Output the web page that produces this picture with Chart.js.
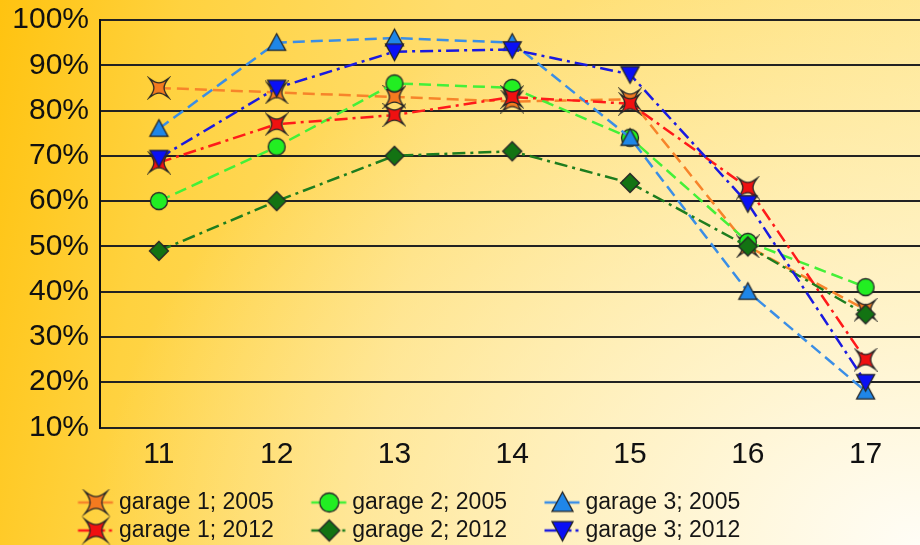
<!DOCTYPE html>
<html>
<head>
<meta charset="utf-8">
<script src="https://cdn.jsdelivr.net/npm/chart.js@4"></script>
<style>
html, body { margin: 0; padding: 0; width: 920px; height: 545px; overflow: hidden; }
body {
    background:
        radial-gradient(ellipse 90% 110% at 100% 100%, rgba(255,253,246,1) 0%, rgba(255,249,228,0.75) 35%, rgba(255,255,255,0) 100%),
        linear-gradient(100deg, #FFC310 0%, #FFD23F 18%, #FFDD6E 45%, #FFE791 100%);
}
#myChart { display: block; }
</style>
</head>
<body>
<canvas id="myChart" width="937" height="552"></canvas>
<script>
// categories (x) and values in %
var categories = ['11', '12', '13', '14', '15', '16', '17'];
var labels = ['garage 1; 2005', 'garage 2; 2005', 'garage 3; 2005', 'garage 1; 2012', 'garage 2; 2012', 'garage 3; 2012'];

var garage1_2005 = [85, 84, 83, 82, 82.5, 50, 36];
var garage2_2005 = [60, 72, 86, 85, 74, 51, 41];
var garage3_2005 = [76, 95, 96, 95, 74, 40, 18];
var garage1_2012 = [68.5, 77, 79, 83, 81.5, 63, 25];
var garage2_2012 = [49, 60, 70, 71, 64, 50, 35];
var garage3_2012 = [69.5, 85, 93, 93.5, 88, 59.5, 20];

var yMin = 10, yMax = 100, yStep = 10;

var FONT = "'Liberation Sans', Arial, sans-serif";

// marker drawing (4 point star, circle, triangles, diamond)
function drawShape(c, shape, x, y, s, fill) {
    c.beginPath();
    if (shape === 'star') {
        var a = 0.2 * s, b = 0.38 * s;
        c.moveTo(x - s, y - s);
        c.bezierCurveTo(x - a, y - b, x + a, y - b, x + s, y - s);
        c.bezierCurveTo(x + b, y - a, x + b, y + a, x + s, y + s);
        c.bezierCurveTo(x + a, y + b, x - a, y + b, x - s, y + s);
        c.bezierCurveTo(x - b, y + a, x - b, y - a, x - s, y - s);
    } else if (shape === 'circle') {
        c.arc(x, y, s, 0, Math.PI * 2);
    } else if (shape === 'tri') {
        c.moveTo(x, y - s);
        c.lineTo(x + s, y + s * 0.85);
        c.lineTo(x - s, y + s * 0.85);
    } else if (shape === 'invtri') {
        c.moveTo(x, y + s);
        c.lineTo(x + s, y - s * 0.85);
        c.lineTo(x - s, y - s * 0.85);
    } else if (shape === 'diamond') {
        c.moveTo(x, y - s);
        c.lineTo(x + s, y);
        c.lineTo(x, y + s);
        c.lineTo(x - s, y);
    }
    c.closePath();
    c.fillStyle = fill;
    c.fill();
    c.lineWidth = 1.3;
    c.strokeStyle = '#262626';
    c.stroke();
}

function marker(shape, fill, s) {
    var cv = document.createElement('canvas');
    var n = Math.ceil(2 * s + 5);
    cv.width = n;
    cv.height = n;
    drawShape(cv.getContext('2d'), shape, n / 2, n / 2, s, fill);
    return cv;
}

// legend icon: line + marker, marker sits in the right part of the box
function legendIcon(shape, fill, line, dotted, s) {
    var cv = document.createElement('canvas');
    cv.width = 80;
    cv.height = 28;
    var c = cv.getContext('2d');
    var mx = 59.5, my = 14;
    c.strokeStyle = line;
    c.lineWidth = 2.5;
    c.beginPath();
    if (!dotted) {
        c.moveTo(mx - 18, my); c.lineTo(mx + 17, my);
    } else {
        c.moveTo(mx - 18, my); c.lineTo(mx - 4, my);
        c.moveTo(mx + 4, my); c.lineTo(mx + 9, my);
        c.moveTo(mx + 13, my); c.lineTo(mx + 16, my);
    }
    c.stroke();
    drawShape(c, shape, mx, my, s, fill);
    return cv;
}

var styles = [
    {data: garage1_2005, line: '#F7842A', fill: '#F47A1F', shape: 'star', s: 9.5, ls: 11, dash: [12, 6]},
    {data: garage2_2005, line: '#44F038', fill: '#22EE22', shape: 'circle', s: 8.5, ls: 9.5, dash: [12, 6]},
    {data: garage3_2005, line: '#3A8EE6', fill: '#1F86E8', shape: 'tri', s: 9, ls: 10.5, dash: [12, 6]},
    {data: garage1_2012, line: '#FF1A1A', fill: '#F01010', shape: 'star', s: 9.5, ls: 11, dash: [13, 5, 3, 5]},
    {data: garage2_2012, line: '#1E7D1E', fill: '#137313', shape: 'diamond', s: 9.5, ls: 10.5, dash: [13, 5, 3, 5]},
    {data: garage3_2012, line: '#1A1AE0', fill: '#0A10F5', shape: 'invtri', s: 9, ls: 10.5, dash: [13, 5, 3, 5]}
];

var legendIcons = [];
var datasets = [];
for (let i = 0; i < styles.length; i++) {
    var st = styles[i];
    legendIcons.push(legendIcon(st.shape, st.fill, st.line, i >= 3, st.ls));
    datasets.push({
        label: labels[i],
        data: st.data,
        borderColor: st.line,
        backgroundColor: st.fill,
        borderWidth: 2.5,
        borderDash: st.dash,
        tension: 0,
        fill: false,
        pointStyle: marker(st.shape, st.fill, st.s),
        pointRadius: 10,
        order: styles.length - i
    });
}

// move the legend to the right, the y axis keeps its own width
const legendShift = {
    id: 'legendShift',
    afterLayout: function (chart) {
        chart.legend.left += 40.5;
        chart.legend.right += 40.5;
    }
};

const ctx = document.getElementById('myChart').getContext('2d');

const myChart = new Chart(ctx, {
    type: 'line',
    data: {
        labels: categories,
        datasets: datasets
    },
    options: {
        responsive: false,
        animation: false,
        layout: {
            padding: {left: 0, top: 0, right: 0, bottom: 0}
        },
        plugins: {
            tooltip: {enabled: false},
            legend: {
                position: 'bottom',
                align: 'start',
                labels: {
                    usePointStyle: true,
                    pointStyleWidth: 62,
                    padding: 5,
                    color: '#151515',
                    font: {family: FONT, size: 23},
                    sort: function (a, b) { return a.datasetIndex - b.datasetIndex; },
                    generateLabels: function (chart) {
                        var items = Chart.defaults.plugins.legend.labels.generateLabels(chart);
                        items.forEach(function (it) { it.pointStyle = legendIcons[it.datasetIndex]; });
                        return items;
                    }
                }
            }
        },
        scales: {
            x: {
                offset: true,
                grid: {display: false, drawTicks: false},
                border: {display: true, color: '#222', width: 2},
                ticks: {color: '#111', padding: 9, font: {family: FONT, size: 30}},
                afterFit: function (scale) { scale.height = 58.5; }
            },
            y: {
                min: yMin,
                max: yMax,
                grid: {color: '#222', lineWidth: 2, drawTicks: false},
                border: {display: true, color: '#111', width: 2},
                ticks: {
                    stepSize: yStep,
                    color: '#111',
                    padding: 11,
                    font: {family: FONT, size: 30},
                    callback: function (value) {
                        return value + '%';
                    }
                },
                afterFit: function (scale) {
                    scale.width = 100;
                    scale.paddingTop = 20;
                    scale.paddingBottom = 0;
                }
            }
        }
    },
    plugins: [legendShift]
});
</script>
</body>
</html>
